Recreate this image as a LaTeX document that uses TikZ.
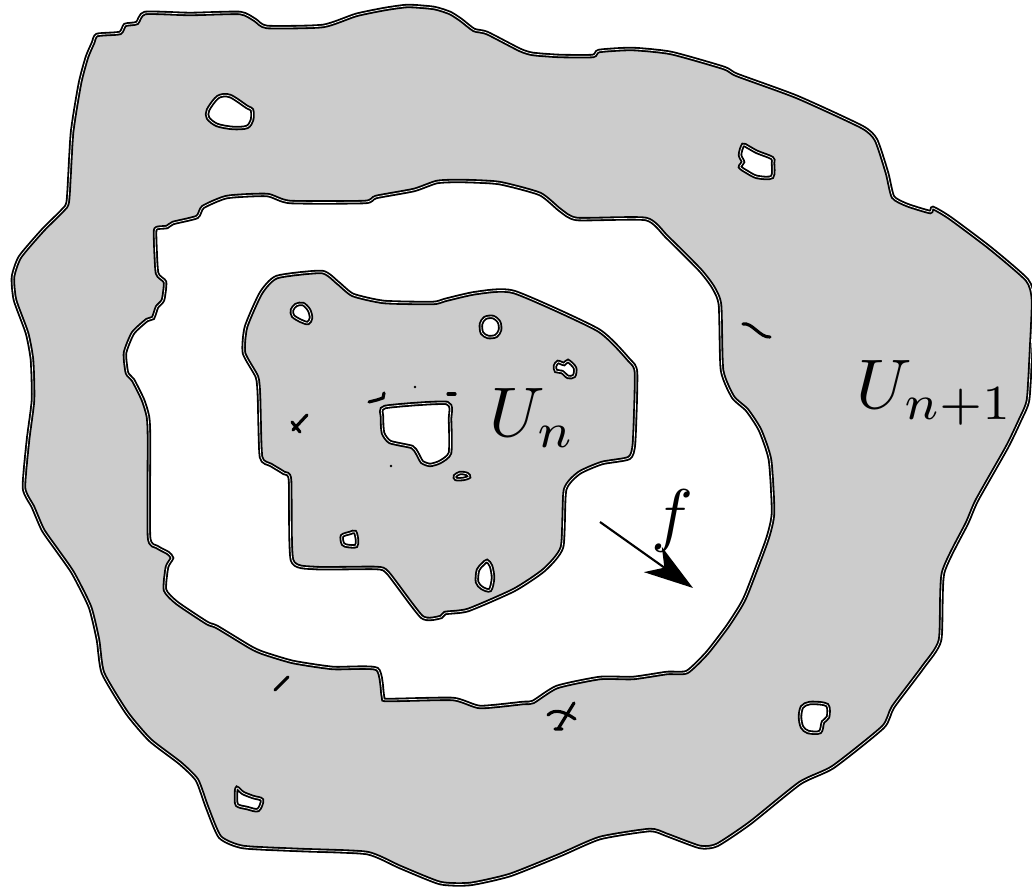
\documentclass[tikz,border=0pt]{standalone}
\usepackage{amsmath,amssymb}
\usepackage{tikz}
\usetikzlibrary{arrows,arrows.meta,calc}

\begin{document}
\begin{tikzpicture}[x=0.005cm, y=-0.005cm,
	region/.style={fill=gray!40, draw=black, line width=0.26pt, double=white, double distance=0.1pt, even odd rule},
	hole/.style={smooth cycle, tension=0.5},
	rim/.style={smooth cycle, tension=0.35},
	scratch/.style={line width=0.45pt, line cap=round}]
	\useasboundingbox (0,0) rectangle (1032,887);
	% U_{n+1}: outer rim, inner rim and its small holes
	\path[region] plot[rim] coordinates {(145,13) (190,14) (240,13) (255,20) (267,27) (323,26) (356,15) (385,9) (408,6) (434,8) (450,13) (461,20) (474,30) (487,33) (520,50) (533,54) (560,56) (593,56) (599,51) (632,49) (671,53) (724,68) (737,75) (797,97) (862,127) (876,140) (887,173) (893,197) (907,205) (930,212) (933,208) (950,218) (990,248) (1027,280) (1033,300) (1031,350) (1028,400) (1020,420) (1007,447) (977,500) (967,523) (943,573) (940,640) (923,667) (893,707) (883,727) (833,767) (800,783) (750,823) (717,845) (700,847) (667,835) (650,830) (600,838) (560,855) (510,875) (470,884) (440,883) (400,867) (367,853) (300,850) (243,847) (220,837) (207,807) (197,780) (180,763) (150,740) (127,713) (103,673) (98,640) (90,607) (73,573) (57,550) (43,530) (33,507) (24,488) (28,440) (33,400) (32,360) (27,333) (15,300) (13,277) (20,257) (43,230) (63,210) (68,200) (72,133) (80,83) (87,57) (93,43) (97,35) (120,33) (125,25) (137,23)}
		plot[rim] coordinates {(155,233) (157,228) (167,227) (173,223) (197,217) (203,207) (227,197) (267,195) (290,202) (365,202) (376,197) (414,190) (437,182) (461,181) (499,183) (540,194) (560,210) (577,219) (646,219) (667,237) (700,270) (713,287) (720,305) (722,370) (733,397) (747,410) (760,430) (770,460) (773,513) (767,540) (747,593) (740,607) (727,627) (707,653) (687,672) (667,673) (633,678) (600,678) (557,687) (533,702) (523,703) (480,707) (453,699) (388,700) (383,697) (377,669) (333,668) (293,662) (263,653) (250,647) (217,627) (207,623) (177,603) (165,590) (167,567) (172,558) (168,553) (157,547) (149,537) (149,440) (148,417) (143,400) (133,380) (127,373) (125,353) (133,333) (147,320) (153,318) (157,307) (163,300) (165,282) (157,273)}
		plot[hole] coordinates {(218,97) (230,96) (247,107) (252,110) (252,120) (247,127) (233,128) (217,125) (208,118) (208,110)}
		plot[hole] coordinates {(743,145) (748,147) (757,152) (772,158) (773,163) (772,177) (757,177) (747,172) (740,167) (743,162) (740,155)}
		plot[hole] coordinates {(802,707) (810,703) (827,705) (828,717) (823,722) (820,732) (808,732) (802,727) (800,717)}
		plot[hole] coordinates {(237,788) (243,793) (253,797) (262,800) (258,810) (247,808) (237,805) (236,795)};
	% U_n and its holes
	\path[region] plot[rim] coordinates {(322,272) (338,283) (353,295) (384,302) (433,303) (445,300) (476,293) (514,292) (598,330) (629,360) (636,373) (634,443) (629,458) (602,463) (579,473) (565,490) (562,547) (544,570) (514,590) (468,610) (445,613) (441,617) (422,617) (388,573) (376,568) (315,568) (292,560) (290,480) (284,473) (271,465) (261,457) (259,397) (257,377) (244,353) (246,327) (261,293) (277,277)}
		plot[hole] coordinates {(296,305) (303,304) (309,310) (311,318) (308,323) (301,321) (293,316) (292,310)}
		plot[hole] coordinates {(485,318) (493,317) (499,322) (500,330) (496,336) (488,337) (482,333) (481,324)}
		plot[hole] coordinates {(558,362) (564,364) (568,361) (575,368) (574,376) (568,377) (562,372) (556,371) (555,366)}
		plot[rim] coordinates {(385,407) (447,403) (450,420) (450,453) (440,462) (430,465) (422,462) (417,453) (412,447) (390,442) (383,433) (382,417)}
		plot[hole] coordinates {(455,476) (460,473) (467,474) (469,477) (463,479) (456,479)}
		plot[hole] coordinates {(342,536) (350,533) (355,532) (357,540) (356,546) (348,546) (343,544)}
		plot[hole] coordinates {(487,561) (491,566) (493,578) (490,590) (482,588) (477,582) (478,570) (483,564)};
	% stray marks
	\draw[scratch] (369,402) -- (377,400) -- (383,398) -- (384,393);
	\fill (415,387) circle (1.3) (391,466) circle (1.3);
	\draw[scratch] (448,394) -- (455,394);
	\draw[scratch] (293,430) -- (307,415) (292,422) -- (300,432);
	\draw[scratch] (743,324) .. controls (752,322) and (760,338) .. (770,337);
	\draw[scratch] (275,690) -- (288,677);
	\draw[scratch] (548,715) .. controls (555,708) and (565,712) .. (575,719);
	\draw[scratch] (574,703) -- (558,729) (555,729) -- (562,729);
	% labels and the map f
	\node[anchor=base west, inner sep=0] (un) at (488,437) {$U_n$};
	\node[anchor=base west, inner sep=0] (unone) at (855,409) {$U_{n+1}$};
	\node[inner sep=0] (flabel) at (672,521) {$f$};
	\coordinate (fstart) at (600,522);
	\coordinate (fend) at (693,588);
	\draw[line width=0.3pt, -{Stealth[length=7pt, width=4.4pt, inset=2pt]}] (fstart) -- (fend);
\end{tikzpicture}
\end{document}
